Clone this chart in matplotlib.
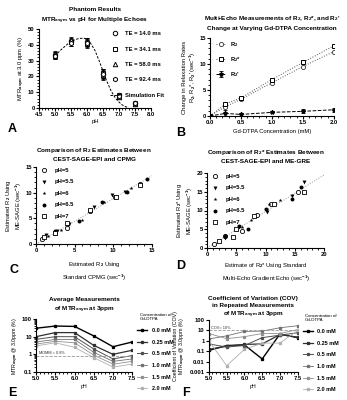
import matplotlib
matplotlib.use('Agg')
import matplotlib.pyplot as plt
import numpy as np

plt.rcParams['font.family'] = ['Liberation Sans', 'DejaVu Sans']
plt.rcParams['font.weight'] = 'bold'
plt.rcParams['mathtext.fontset'] = 'custom'
plt.rcParams['mathtext.rm'] = 'Liberation Sans:bold'
plt.rcParams['mathtext.bf'] = 'Liberation Sans:bold'
plt.rcParams['mathtext.it'] = 'Liberation Sans:bold'
plt.rcParams['mathtext.default'] = 'bf'
plt.rcParams['axes.linewidth'] = 0.8
plt.rcParams['xtick.major.width'] = 0.8
plt.rcParams['ytick.major.width'] = 0.8
plt.rcParams['xtick.major.size'] = 2
plt.rcParams['ytick.major.size'] = 2
plt.rcParams['xtick.minor.size'] = 1.2
plt.rcParams['ytick.minor.size'] = 1.2
plt.rcParams['xtick.labelsize'] = 4.2
plt.rcParams['ytick.labelsize'] = 4.2
plt.rcParams['xtick.major.pad'] = 1
plt.rcParams['ytick.major.pad'] = 1

# ---- Panel A data ----
ph_a = [5.0, 5.5, 6.0, 6.5, 7.0, 7.5]
te_labels = ['TE = 14.0 ms', 'TE = 34.1 ms', 'TE = 58.0 ms', 'TE = 92.4 ms']
mtr_te = [
    [33.5, 42.5, 41.5, 21.5, 8.0, 3.0],
    [33.0, 41.5, 40.5, 22.0, 7.5, 2.8],
    [34.0, 43.0, 42.0, 21.0, 7.0, 2.5],
    [33.2, 41.0, 41.0, 21.8, 7.8, 3.2],
]
mtr_err = [2.0, 2.0, 2.5, 3.0, 1.5, 1.0]
fit_ph = [5.0, 5.2, 5.4, 5.6, 5.75, 5.9, 6.0, 6.1, 6.25, 6.4, 6.5, 6.6, 6.75, 6.9, 7.0, 7.1, 7.2, 7.3]
fit_mtr = [33.0, 37.0, 40.5, 43.0, 44.0, 44.2, 43.5, 41.5, 36.5, 29.0, 23.5, 18.0, 11.0, 6.0, 3.8, 2.0, 0.9, 0.2]

# ---- Panel B data ----
gd_conc = [0.0, 0.25, 0.5, 1.0, 1.5, 2.0]
r2 = [0.0, 1.8, 3.2, 6.4, 9.5, 12.4]
r2s = [0.0, 2.3, 3.5, 7.0, 10.3, 13.5]
r2p = [0.0, 0.5, 0.3, 0.7, 0.9, 1.2]
r2p_err = [0.0, 0.6, 0.3, 0.2, 0.4, 0.4]

# ---- Panel C data (CPMG x, ME-SAGE y) ----
ph_groups = ['pH=5', 'pH=5.5', 'pH=6', 'pH=6.5', 'pH=7']
c_x = [
    [0.8, 2.5, 4.0, 7.0, 10.2, 13.5],
    [1.3, 2.7, 4.3, 7.5, 9.8, 11.5],
    [1.5, 3.2, 6.0, 8.8, 12.3, 14.3],
    [2.5, 4.1, 5.5, 8.5, 11.8, 14.4],
    [1.0, 2.5, 4.0, 7.0, 10.3, 13.4],
]
c_y = [
    [0.9, 2.2, 3.2, 6.5, 9.2, 11.6],
    [1.7, 2.5, 3.9, 7.2, 9.5, 10.1],
    [1.5, 2.8, 4.7, 8.1, 10.9, 12.6],
    [2.6, 3.8, 4.5, 8.1, 10.2, 12.7],
    [1.3, 2.2, 4.0, 6.6, 9.2, 11.5],
]
c_fit_x = [0, 15]
c_fit_y = [0, 13.3]

# ---- Panel D data (ME-GRE x, ME-SAGE y) ----
d_x = [
    [1.2, 3.0, 6.0, 8.5, 11.0, 15.5],
    [3.0, 5.5, 10.0, 10.3, 14.5, 16.5],
    [3.0, 6.0, 7.5, 10.5, 12.5, 16.0],
    [3.0, 5.5, 7.0, 10.0, 14.5, 16.0],
    [2.0, 4.5, 5.0, 8.0, 11.5, 16.5],
]
d_y = [
    [1.0, 3.3, 4.5, 8.7, 11.8, 15.0],
    [2.7, 5.5, 10.2, 9.5, 14.0, 17.5],
    [3.2, 5.5, 7.5, 11.8, 12.8, 16.2],
    [3.2, 6.0, 5.0, 10.5, 13.0, 16.3],
    [2.0, 3.0, 5.0, 8.5, 11.8, 15.0],
]
d_fit_x = [0, 20]
d_fit_y = [0, 19.5]

# ---- Panel E / F data ----
ph_ef = [5.0, 5.5, 6.0, 6.5, 7.0, 7.5]
conc_labels = ['0.0 mM', '0.25 mM', '0.5 mM', '1.0 mM', '1.5 mM', '2.0 mM']
mtr_avg = [
    [30, 40, 38, 11, 2.7, 5.0],
    [10, 17, 17, 3.2, 1.0, 1.7],
    [7.0, 10, 10, 2.0, 0.55, 0.85],
    [5.0, 7.0, 7.0, 1.3, 0.4, 0.55],
    [3.8, 5.5, 4.5, 0.9, 0.28, 0.4],
    [3.0, 4.5, 2.5, 0.65, 0.19, 0.28],
]
mdmm = 0.8
cov = [
    [0.12, 0.35, 0.4, 0.018, 4.5, 2.0],
    [0.15, 0.3, 0.45, 0.5, 4.0, 2.2],
    [0.5, 0.25, 0.35, 2.0, 3.5, 6.0],
    [1.5, 3.0, 8.0, 8.5, 18, 28],
    [5.0, 1.6, 2.5, 5.0, 5.0, 12],
    [1.0, 0.004, 0.15, 0.6, 0.6, 10],
]
cov_limit = 10
grays = ['#000000', '#303030', '#505050', '#707070', '#909090', '#b0b0b0']
widths = [1.0, 0.9, 0.7, 0.6, 0.6, 0.6]

fig = plt.figure(figsize=(3.47, 4.0), dpi=100)

TFS = 4.6
LFS = 4.2


def prism(ax):
    ax.spines['top'].set_visible(False)
    ax.spines['right'].set_visible(False)
    ax.tick_params(which='both', direction='out')


def panel_letter(x, y, s):
    fig.text(x / 347, 1 - y / 400, s, fontsize=9, fontweight='bold', ha='left', va='center')


# Panel A
ax = fig.add_axes([0.112, 0.73, 0.323, 0.1975])
prism(ax)
ax.plot(fit_ph, fit_mtr, color='black', ls=(0, (2.5, 1.5)), lw=0.7, label='Simulation Fit', zorder=1)
mk = ['o', 's', '^', 'h']
for vals, lab, m in zip(mtr_te, te_labels, mk):
    ax.errorbar(ph_a, vals, yerr=mtr_err, fmt='none', ecolor='black', elinewidth=0.6, capsize=1.2,
                capthick=0.6, zorder=2)
    ax.plot(ph_a, vals, ls='none', marker=m, ms=3.2, mfc='white', mec='black', mew=0.7, label=lab, zorder=3)
ax.set_xlim(4.5, 8.0)
ax.set_ylim(0, 50)
ax.set_xticks(np.arange(4.5, 8.01, 0.5))
ax.set_xticks(np.arange(4.5, 8.01, 0.1), minor=True)
ax.set_yticks([0, 10, 20, 30, 40, 50])
ax.set_yticks(np.arange(0, 51, 2), minor=True)
ax.set_xlabel('pH', fontsize=LFS, labelpad=1)
ax.set_ylabel(r'MTR$_{asym}$ at 3.0 ppm (%)', fontsize=LFS, labelpad=1)
ax.set_title('Phantom Results\n' + r'MTR$_{asym}$ vs pH for Multiple Echoes', fontsize=TFS,
             fontweight='bold', pad=5, linespacing=1.6)
h, l = ax.get_legend_handles_labels()
order = [1, 2, 3, 4, 0]
ax.legend([h[i] for i in order], [l[i] for i in order], loc='upper right', bbox_to_anchor=(1.14, 1.0),
          frameon=False, fontsize=4.2, labelspacing=1.75, handlelength=1.6, handletextpad=1.0, borderaxespad=0)
panel_letter(8, 129, 'A')

# Panel B
ax = fig.add_axes([0.605, 0.71, 0.357, 0.195])
prism(ax)
ax.plot(gd_conc, r2, ls=':', color='#555555', lw=0.7, marker='o', ms=3, mfc='white', mec='#333333', mew=0.6,
        label=r'R$_2$')
ax.plot(gd_conc, r2s, ls=':', color='#555555', lw=0.7, marker='s', ms=3, mfc='white', mec='black', mew=0.7,
        label=r'R$_2$*')
ax.errorbar(gd_conc, r2p, yerr=r2p_err, ls='--', color='black', lw=0.7, marker='*', ms=3,
            elinewidth=0.6, capsize=1.2, capthick=0.6, label=r"R$_2$'")
ax.set_xlim(0, 2.0)
ax.set_ylim(0, 15)
ax.set_xticks([0.0, 0.5, 1.0, 1.5, 2.0])
ax.set_xticks(np.arange(0, 2.01, 0.1), minor=True)
ax.set_yticks([0, 5, 10, 15])
ax.set_yticks(np.arange(0, 15.1, 1), minor=True)
ax.set_xlabel('Gd-DTPA Concentration (mM)', fontsize=LFS, labelpad=3)
ax.set_ylabel('Change in Relaxation Rates\n' + r"R$_2$, R$_2$*, R$_2$' (sec$^{-1}$)", fontsize=LFS,
              labelpad=1, linespacing=1.1)
ax.set_title('Multi-Echo Measurements of ' + r"R$_2$, R$_2$*, and R$_2$'" + '\nChange at Varying Gd-DTPA Concentration',
             fontsize=TFS, fontweight='bold', pad=6, linespacing=1.6)
ax.legend(loc='upper left', bbox_to_anchor=(0.03, 1.0), frameon=False, fontsize=4.2, labelspacing=1.0,
          handlelength=1.6, borderaxespad=0)
panel_letter(176, 133, 'B')

# Panel C / D scatter markers
sc_styles = [
    dict(marker='o', s=9, facecolors='white', edgecolors='black', linewidths=0.6),
    dict(marker='v', s=8, color='black', linewidths=0),
    dict(marker='*', s=8, color='black', linewidths=0),
    dict(marker='o', s=8, color='black', linewidths=0),
    dict(marker='s', s=9, facecolors='white', edgecolors='black', linewidths=0.6),
]

ax = fig.add_axes([0.104, 0.39, 0.334, 0.1925])
prism(ax)
ax.plot(c_fit_x, c_fit_y, color='#999999', ls=':', lw=0.7, zorder=1)
for xs, ys, lab, st in zip(c_x, c_y, ph_groups, sc_styles):
    ax.scatter(xs, ys, label=lab, zorder=3, **st)
ax.set_xlim(0, 15)
ax.set_ylim(0, 15)
ax.set_xticks([0, 5, 10, 15])
ax.set_yticks([0, 5, 10, 15])
ax.set_xticks(np.arange(0, 15.1, 1), minor=True)
ax.set_yticks(np.arange(0, 15.1, 1), minor=True)
ax.set_xlabel(r'Estimated R$_2$ Using' + '\n' + r'Standard CPMG (sec$^{-1}$)', fontsize=LFS, labelpad=5,
              linespacing=1.5)
ax.set_ylabel(r'Estimated R$_2$ Using' + '\n' + r'ME-SAGE (sec$^{-1}$)', fontsize=LFS, labelpad=1,
              linespacing=1.1)
ax.set_title(r'Comparison of R$_2$ Estimates Between' + '\nCEST-SAGE-EPI and CPMG', fontsize=TFS,
             fontweight='bold', pad=4, linespacing=1.6)
ax.legend(loc='upper left', bbox_to_anchor=(0.0, 1.02), frameon=False, fontsize=4.2, labelspacing=1.1,
          handletextpad=0.8, borderaxespad=0, scatterpoints=1)
panel_letter(10, 270, 'C')

ax = fig.add_axes([0.597, 0.38, 0.337, 0.1875])
prism(ax)
ax.plot(d_fit_x, d_fit_y, color='#999999', ls=':', lw=0.7, zorder=1)
for xs, ys, lab, st in zip(d_x, d_y, ph_groups, sc_styles):
    ax.scatter(xs, ys, label=lab, zorder=3, **st)
ax.set_xlim(0, 20)
ax.set_ylim(0, 20)
ax.set_xticks([0, 5, 10, 15, 20])
ax.set_yticks([0, 5, 10, 15, 20])
ax.set_xticks(np.arange(0, 20.1, 1), minor=True)
ax.set_yticks(np.arange(0, 20.1, 1), minor=True)
ax.set_xlabel(r'Estimate of R$_2$* Using Standard' + '\n' + r'Multi-Echo Gradient Echo (sec$^{-1}$)',
              fontsize=LFS, labelpad=3, linespacing=1.5)
ax.set_ylabel(r'Estimated R$_2$* Using' + '\n' + r'ME-SAGE (sec$^{-1}$)', fontsize=LFS, labelpad=1,
              linespacing=1.1)
ax.set_title(r'Comparison of R$_2$* Estimates Between' + '\nCEST-SAGE-EPI and ME-GRE', fontsize=TFS,
             fontweight='bold', pad=7, linespacing=1.6)
ax.legend(loc='upper left', bbox_to_anchor=(0.0, 1.02), frameon=False, fontsize=4.2, labelspacing=1.1,
          handletextpad=0.8, borderaxespad=0, scatterpoints=1)
panel_letter(176, 266, 'D')


def conc_legend(ax):
    leg = ax.legend(loc='upper left', bbox_to_anchor=(1.03, 1.15), frameon=False, fontsize=4.0,
                    labelspacing=1.2, handlelength=1.8, borderaxespad=0,
                    title='Concentration of\nGd-DTPA', title_fontproperties={'size': 3.2, 'weight': 'normal'})
    leg.get_title().set_linespacing(1.0)
    return leg


# Panel E
ax = fig.add_axes([0.104, 0.07, 0.277, 0.1325])
prism(ax)
for vals, lab, c, w in zip(mtr_avg, conc_labels, grays, widths):
    ax.plot(ph_ef, vals, color=c, lw=w, marker='s', ms=1.4, label=lab)
ax.axhline(mdmm, color='#999999', ls='--', lw=0.6)
ax.text(5.07, mdmm * 1.25, 'MDMM = 0.8%', fontsize=2.8, fontweight='normal', color='#333333')
ax.set_yscale('log')
ax.set_ylim(0.1, 100)
ax.set_xlim(5.0, 7.5)
ax.set_yticks([0.1, 1, 10, 100])
ax.set_yticklabels(['0.1', '1', '10', '100'])
ax.set_xticks([5.0, 5.5, 6.0, 6.5, 7.0, 7.5])
ax.set_xticks(np.arange(5.0, 7.51, 0.1), minor=True)
ax.set_xlabel('pH', fontsize=3.8, labelpad=2)
ax.set_ylabel(r'MTR$_{asym}$ @ 3.0ppm (%)', fontsize=3.8, labelpad=1)
ax.set_title('Average Measurements\n' + r'of MTR$_{asym}$ at 3ppm', fontsize=TFS, fontweight='bold', pad=6,
             linespacing=1.3)
conc_legend(ax)
panel_letter(8, 393, 'E')

# Panel F
ax = fig.add_axes([0.602, 0.07, 0.256, 0.13])
prism(ax)
for vals, lab, c, w in zip(cov, conc_labels, grays, widths):
    ax.plot(ph_ef, vals, color=c, lw=w, marker='s', ms=1.4, label=lab)
ax.axhline(cov_limit, color='#999999', ls='--', lw=0.6)
ax.text(5.07, cov_limit * 1.3, 'COV= 10%', fontsize=2.8, fontweight='normal', color='#333333')
ax.set_yscale('log')
ax.set_ylim(0.001, 100)
ax.set_xlim(5.0, 7.5)
ax.set_yticks([0.001, 0.01, 0.1, 1, 10, 100])
ax.set_yticklabels(['0.001', '0.01', '0.1', '1', '10', '100'])
ax.set_xticks([5.0, 5.5, 6.0, 6.5, 7.0, 7.5])
ax.set_xticks(np.arange(5.0, 7.51, 0.1), minor=True)
ax.set_xlabel('pH', fontsize=3.8, labelpad=2)
ax.set_ylabel('Coefficient of Variation (COV)\n' + r'MTR$_{asym}$ @ 3.0ppm (%)', fontsize=3.8, labelpad=1,
              linespacing=1.1)
ax.set_title('Coefficient of Variation (COV)\nin Repeated Measurements\n' + r'of MTR$_{asym}$ at 3ppm',
             fontsize=TFS, fontweight='bold', pad=3, linespacing=1.3)
conc_legend(ax)
panel_letter(182, 393, 'F')

fig.savefig('out.png', dpi=100)
